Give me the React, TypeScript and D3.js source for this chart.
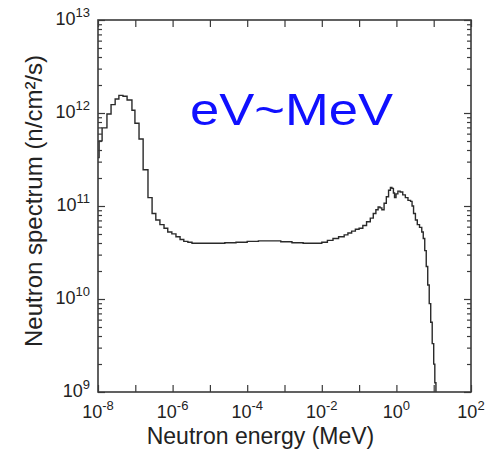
import React, { useEffect, useRef } from 'react';
import * as d3 from 'd3';

// lower bin edge, log10(E / MeV)
const energyExp = [
  -8.0, -7.97, -7.89, -7.76, -7.65, -7.54, -7.44, -7.33, -7.22, -7.09,
  -7.01, -6.9, -6.79, -6.66, -6.55, -6.45, -6.34, -6.23, -6.13, -6.02,
  -5.91, -5.8, -5.7, -5.59, -5.48, -5.2, -4.9, -4.6, -4.3, -4.0,
  -3.7, -3.4, -3.1, -2.8, -2.5, -2.2, -2.0, -1.85, -1.7, -1.55,
  -1.4, -1.3, -1.2, -1.1, -1.0, -0.9, -0.8, -0.7, -0.62, -0.55,
  -0.49, -0.44, -0.39, -0.33, -0.27, -0.21, -0.16, -0.12, -0.08, -0.05,
  -0.01, 0.04, 0.1, 0.17, 0.24, 0.31, 0.38, 0.42, 0.46, 0.51,
  0.56, 0.62, 0.68, 0.72, 0.76, 0.8, 0.84, 0.88, 0.92, 0.96,
  1.0, 1.03, 1.06,
];

// log10(flux / n cm^-2 s^-1) in each bin
const fluxExp = [
  11.52, 11.7, 11.84, 11.99, 12.09, 12.15, 12.19, 12.18, 12.14, 12.03,
  11.89, 11.72, 11.39, 11.09, 10.92, 10.85, 10.8, 10.76, 10.72, 10.7,
  10.67, 10.64, 10.62, 10.61, 10.6, 10.6, 10.6, 10.605, 10.61, 10.62,
  10.625, 10.625, 10.615, 10.605, 10.6, 10.6, 10.61, 10.63, 10.65, 10.67,
  10.69, 10.71, 10.73, 10.75, 10.76, 10.79, 10.83, 10.87, 10.92, 10.96,
  10.99, 10.98, 10.96, 11.03, 11.1, 11.17, 11.2, 11.19, 11.14, 11.09,
  11.13, 11.16, 11.15, 11.12, 11.09, 11.06, 11.05, 11.0, 10.92, 10.85,
  10.8, 10.77, 10.72, 10.65, 10.52, 10.35, 10.15, 9.95, 9.75, 9.52,
  9.3, 9.1, 8.9,
];

const xTickExps = [-8, -7, -6, -5, -4, -3, -2, -1, 0, 1, 2];
const xLabelExps = ['-8', '-6', '-4', '-2', '0', '2'];
const yTickExps = [9, 10, 11, 12, 13];
const minorMultipliers = [2, 3, 4, 5, 6, 7, 8, 9];

const App = () => {
  const svgRef = useRef<SVGSVGElement>(null);

  useEffect(() => {
    const svg = d3.select(svgRef.current);
    svg.selectAll('*').remove();

    const W = 486;
    const H = 451;
    const margin = { top: 20, right: 15, bottom: 59, left: 98 };
    const width = W - margin.left - margin.right;
    const height = H - margin.top - margin.bottom;
    const font = 'Liberation Sans, Arial, Helvetica, sans-serif';
    const axisColor = '#3a3a3a';

    const x = d3.scaleLog().domain([1e-8, 1e2]).range([0, width]);
    const y = d3.scaleLog().domain([1e9, 1e13]).range([height, 0]);

    const g = svg.append('g').attr('transform', `translate(${margin.left},${margin.top})`);

    g.append('clipPath')
      .attr('id', 'plot-clip')
      .append('rect')
      .attr('width', width)
      .attr('height', height);

    // spectrum histogram
    const pts = energyExp.map((e, i) => ({ e: 10 ** e, f: 10 ** fluxExp[i] }));
    const line = d3
      .line<{ e: number; f: number }>()
      .x((d) => x(d.e))
      .y((d) => y(d.f))
      .curve(d3.curveStepAfter);

    g.append('path')
      .datum(pts)
      .attr('d', line)
      .attr('clip-path', 'url(#plot-clip)')
      .attr('fill', 'none')
      .attr('stroke', '#2a2a2a')
      .attr('stroke-width', 1.4);

    // ticks
    const majorX = xTickExps.map((k) => 10 ** k);
    const majorY = yTickExps.map((k) => 10 ** k);
    const minorY: number[] = [];
    yTickExps.slice(0, -1).forEach((k) => minorMultipliers.forEach((m) => minorY.push(m * 10 ** k)));

    const drawAxis = (axis: d3.Axis<number>, transform: string) => {
      const a = g.append('g').attr('transform', transform).call(axis as any);
      a.selectAll('text').remove();
      a.select('.domain').remove();
      a.selectAll('line').attr('stroke', axisColor).attr('stroke-width', 1.2);
    };

    drawAxis(d3.axisBottom(x).tickValues(majorX).tickSize(-7).tickFormat(() => ''), `translate(0,${height})`);
    drawAxis(d3.axisTop(x).tickValues(majorX).tickSize(-7).tickFormat(() => ''), 'translate(0,0)');
    drawAxis(d3.axisLeft(y).tickValues(majorY).tickSize(-7).tickFormat(() => ''), 'translate(0,0)');
    drawAxis(d3.axisLeft(y).tickValues(minorY).tickSize(-4).tickFormat(() => ''), 'translate(0,0)');
    drawAxis(d3.axisRight(y).tickValues(majorY).tickSize(-7).tickFormat(() => ''), `translate(${width},0)`);
    drawAxis(d3.axisRight(y).tickValues(minorY).tickSize(-4).tickFormat(() => ''), `translate(${width},0)`);

    // frame
    g.append('rect')
      .attr('width', width)
      .attr('height', height)
      .attr('fill', 'none')
      .attr('stroke', axisColor)
      .attr('stroke-width', 1.6);

    // x tick labels
    xLabelExps.forEach((s) => {
      const t = g
        .append('text')
        .attr('x', x(10 ** +s))
        .attr('y', height + 26)
        .attr('text-anchor', 'middle')
        .attr('font-family', font)
        .attr('font-size', 18)
        .attr('fill', '#222');
      t.append('tspan').text('10');
      t.append('tspan').attr('dy', -8).attr('font-size', 13).text(s);
    });

    // y tick labels
    yTickExps.forEach((k) => {
      const t = g
        .append('text')
        .attr('x', -8)
        .attr('y', y(10 ** k) + 5)
        .attr('text-anchor', 'end')
        .attr('font-family', font)
        .attr('font-size', 18)
        .attr('fill', '#222');
      t.append('tspan').text('10');
      t.append('tspan').attr('dy', -8).attr('font-size', 13).text(String(k));
    });

    // axis titles
    g.append('text')
      .attr('x', width / 2 - 24)
      .attr('y', height + 52)
      .attr('text-anchor', 'middle')
      .attr('font-family', font)
      .attr('font-size', 23)
      .attr('fill', '#222')
      .text('Neutron energy (MeV)');

    g.append('text')
      .attr('transform', `translate(${-56},${181}) rotate(-90)`)
      .attr('text-anchor', 'middle')
      .attr('font-family', font)
      .attr('font-size', 24)
      .attr('fill', '#222')
      .text('Neutron spectrum (n/cm²/s)');

    // energy range annotation
    svg
      .append('text')
      .attr('x', 190)
      .attr('y', 125)
      .attr('font-family', font)
      .attr('font-size', 44)
      .attr('textLength', 203)
      .attr('lengthAdjust', 'spacingAndGlyphs')
      .attr('fill', '#1010ff')
      .text('eV~MeV');
  }, []);

  return (
    <svg
      ref={svgRef}
      width={486}
      height={451}
      style={{ position: 'absolute', left: 0, top: 0, background: '#fff' }}
    ></svg>
  );
};

export default App;
